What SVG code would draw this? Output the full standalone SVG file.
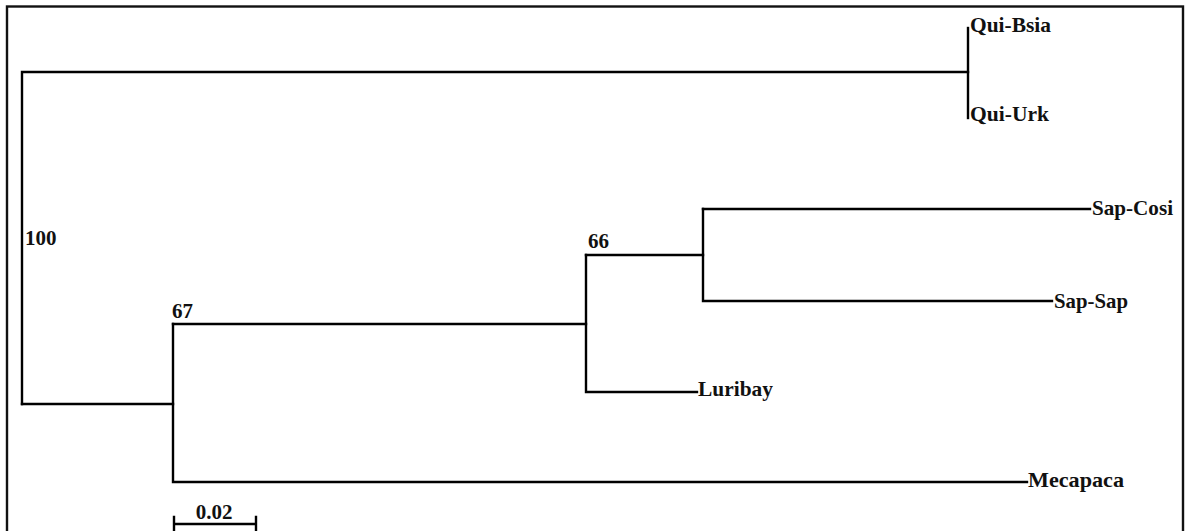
<svg xmlns="http://www.w3.org/2000/svg" width="1186" height="531" viewBox="0 0 1186 531">
  <style>
    .frame { fill: none; stroke: #111; stroke-width: 2.4; }
    .branch { fill: none; stroke: #000; stroke-width: 2.4; stroke-linecap: square; }
    .lbl { font-family: "Liberation Serif", "Times New Roman", serif; font-weight: bold; font-size: 22px; fill: #111; }
    .boot { font-family: "Liberation Serif", "Times New Roman", serif; font-weight: bold; font-size: 21px; fill: #111; }
  </style>
  <rect width="1186" height="531" fill="#fff"/>
  <rect class="frame" x="7" y="6.5" width="1176" height="540"/>

  <!-- branches of the tree -->
  <g id="connectors">
    <path class="branch" d="M22,404 V72 H968"/>
    <path class="branch" d="M968,28 V118"/>
    <path class="branch" d="M22,404 H173"/>
    <path class="branch" d="M173,324 V482 H1027"/>
    <path class="branch" d="M173,324 H586"/>
    <path class="branch" d="M586,255 V392 H697"/>
    <path class="branch" d="M586,255 H703"/>
    <path class="branch" d="M703,209 V301 H1052"/>
    <path class="branch" d="M703,209 H1090"/>
  </g>

  <!-- leaves -->
  <g id="qui-bsia"><text class="lbl" x="970" y="32" textLength="81" lengthAdjust="spacingAndGlyphs">Qui-Bsia</text></g>
  <g id="qui-urk"><text class="lbl" x="970" y="121" textLength="79" lengthAdjust="spacingAndGlyphs">Qui-Urk</text></g>
  <g id="sap-cosi"><text class="lbl" x="1092" y="215" textLength="81" lengthAdjust="spacingAndGlyphs">Sap-Cosi</text></g>
  <g id="sap-sap"><text class="lbl" x="1054" y="308" textLength="74" lengthAdjust="spacingAndGlyphs">Sap-Sap</text></g>
  <g id="luribay"><text class="lbl" x="698" y="396" textLength="75" lengthAdjust="spacingAndGlyphs">Luribay</text></g>
  <g id="mecapaca"><text class="lbl" x="1028" y="487" textLength="96" lengthAdjust="spacingAndGlyphs">Mecapaca</text></g>

  <!-- bootstrap values at internal nodes -->
  <g id="node-100"><text class="boot" x="25" y="245">100</text></g>
  <g id="node-67"><text class="boot" x="172" y="318">67</text></g>
  <g id="node-66"><text class="boot" x="588" y="248">66</text></g>

  <!-- scale bar -->
  <g id="scale-bar">
    <path class="branch" d="M174,524 H256 M174,517 V531 M256,517 V531"/>
    <text class="boot" x="214" y="519" text-anchor="middle">0.02</text>
  </g>
</svg>
